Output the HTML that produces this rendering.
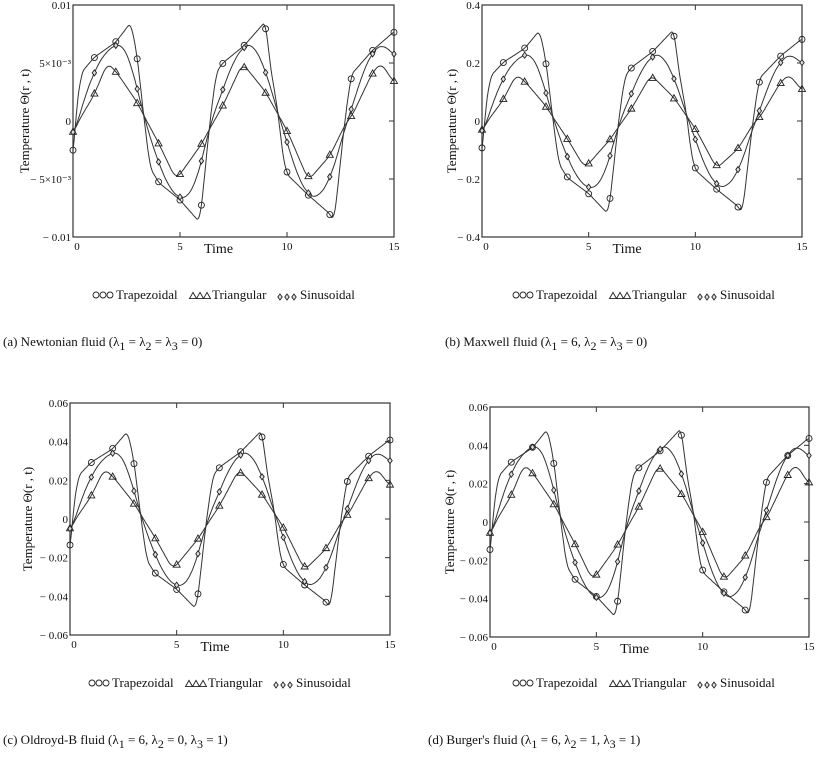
<!DOCTYPE html>
<html><head><meta charset="utf-8"><style>
body{margin:0;background:#fff}
svg text{font-family:"Liberation Serif",serif;fill:#111}
</style></head><body>
<svg id="s" width="819" height="757" xmlns="http://www.w3.org/2000/svg"></svg>
<script>
const S=document.getElementById('s');let h='';
const trap=[[0,-3.5],[0.15,1],[0.4,4.2],[1,5.5],[2,6.8],[2.7,8.5],[3.0,5.6],[3.3,0.5],[3.6,-4.0],[4,-5.3],[5,-6.8],[5.9,-8.7],[6,-7.5],[6.4,0],[6.7,4.2],[7,5.0],[8,6.5],[9,8.6],[9.2,5],[9.6,0.5],[9.8,-3],[10,-4.6],[11,-6.4],[12,-8.0],[12.2,-8.7],[12.7,0],[13,4.0],[14,6.1],[15,7.7]];
const sin=[[0,-1.5],[0.5,1.8],[1,4.3],[1.5,5.9],[2,6.6],[2.3,6.7],[2.7,5],[3,2.8],[3.3,0.5],[3.7,-2],[4,-3.6],[4.5,-5.8],[5,-6.7],[5.3,-6.7],[5.7,-5.5],[6,-3.6],[6.4,-0.3],[7,2.7],[7.5,5.2],[8,6.5],[8.4,6.7],[9,4.4],[9.6,0.5],[10,-1.8],[10.5,-4.8],[11,-6.4],[11.4,-6.7],[12,-5.1],[12.5,-2],[12.8,0],[13,0.9],[13.5,4],[14,6.0],[14.5,6.7],[15,5.6]];
const tri=[[0,-1.2],[0.2,-0.2],[1,2.3],[1.6,5.0],[2,4.3],[3,1.6],[3.3,0.5],[4,-1.9],[4.8,-5.0],[5,-4.6],[6,-2.0],[6.5,-0.3],[7,1.3],[7.9,4.9],[8,4.8],[9,2.5],[9.6,0.5],[10,-0.8],[11,-5.1],[12,-3.0],[12.8,0],[13,0.3],[14,4.2],[14.4,5.0],[15,3.3]];
function interp(k,t){for(let i=0;i<k.length-1;i++){if(t>=k[i][0]&&t<=k[i+1][0]){const f=(t-k[i][0])/(k[i+1][0]-k[i][0]);return k[i][1]+f*(k[i+1][1]-k[i][1]);}}return k[k.length-1][1];}
function smooth(k,t,w){if(w==0)return interp(k,t);let s=0,n=0;for(let d=-w;d<=w+1e-9;d+=w/5){const tt=Math.min(15,Math.max(0,t+d));s+=interp(k,tt);n++;}return s/n;}
function circ(x,y){return `<circle cx="${x}" cy="${y}" r="3" fill="none" stroke="#222" stroke-width="0.9"/>`}
function triM(x,y){return `<path d="M${x} ${y-3.6}L${x+3.5} ${y+2.6}L${x-3.5} ${y+2.6}Z" fill="none" stroke="#222" stroke-width="0.9"/>`}
function dia(x,y){return `<path d="M${x} ${y-3}L${x+2.2} ${y}L${x} ${y+3}L${x-2.2} ${y}Z" fill="#ddd" stroke="#222" stroke-width="0.9"/>`}
const P=[
{x0:73,x1:394,yt:5,yb:237,lab:['0.01','5×10⁻³','0','− 5×10⁻³','− 0.01'],sc:[1,1,1],ylx:25},
{x0:482,x1:802,yt:5,yb:237,lab:['0.4','0.2','0','− 0.2','− 0.4'],sc:[0.92,0.87,0.8],ylx:452},
{x0:70,x1:390,yt:403,yb:635,lab:['0.06','0.04','0.02','0','− 0.02','− 0.04','− 0.06'],sc:[0.89,0.87,0.86],ylx:28},
{x0:490,x1:809,yt:407,yb:637,lab:['0.06','0.04','0.02','0','− 0.02','− 0.04','− 0.06'],sc:[0.95,1.0,1.0],ylx:450}];
P.forEach(p=>{
 const X=t=>p.x0+(p.x1-p.x0)*t/15, Y=v=>(p.yt+p.yb)/2-v/10*(p.yb-p.yt)/2;
 h+=`<rect x="${p.x0}" y="${p.yt}" width="${p.x1-p.x0}" height="${p.yb-p.yt}" fill="none" stroke="#333" stroke-width="1.2"/>`;
 [5,10].forEach(t=>{h+=`<line x1="${X(t)}" y1="${p.yt}" x2="${X(t)}" y2="${p.yt+5}" stroke="#333"/><line x1="${X(t)}" y1="${p.yb}" x2="${X(t)}" y2="${p.yb-5}" stroke="#333"/>`;});
 const n=p.lab.length;
 p.lab.forEach((l,i)=>{const y=p.yt+(p.yb-p.yt)*i/(n-1);
  if(i>0&&i<n-1)h+=`<line x1="${p.x1}" y1="${y}" x2="${p.x1-5}" y2="${y}" stroke="#333"/>`;
  h+=`<text x="${p.x0-2}" y="${y+4}" font-size="11" text-anchor="end">${l}</text>`;});
 [['0',0],['5',5],['10',10],['15',15]].forEach(([l,t])=>{h+=`<text x="${X(t)+(t==0?4:0)}" y="${p.yb+13}" font-size="11" text-anchor="middle">${l}</text>`;});
 h+=`<text x="${X(6.8)}" y="${p.yb+16}" font-size="14" text-anchor="middle">Time</text>`;
 h+=`<text transform="translate(${p.ylx+4},${(p.yt+p.yb)/2}) rotate(-90)" font-size="13" text-anchor="middle">Temperature Θ(r , t)</text>`;
 [[trap,circ,0.12],[tri,triM,0.2],[sin,dia,0.3]].forEach(([k,m,w],j)=>{
  const s=[0,2,1][j]; const f=p.sc[s];
  let d='';for(let t=0;t<=15.0001;t+=0.05){d+=(d?'L':'M')+X(t).toFixed(1)+' '+Y(smooth(k,t,w)*f).toFixed(1);}
  h+=`<path d="${d}" fill="none" stroke="#333" stroke-width="1"/>`;
  for(let t=0;t<=15;t++)h+=m(X(t),Y(smooth(k,t,w)*f));
 });
});
function legend(cx,y){let x=cx-130;let s='';
 for(let i=0;i<3;i++)s+=circ(x+i*7,y-4);s+=`<text x="${x+20}" y="${y}" font-size="13">Trapezoidal</text>`;
 x+=97;for(let i=0;i<3;i++)s+=triM(x+i*7,y-3);s+=`<text x="${x+19}" y="${y}" font-size="13">Triangular</text>`;
 x+=87;for(let i=0;i<3;i++)s+=dia(x+i*7,y-2);s+=`<text x="${x+20}" y="${y}" font-size="13">Sinusoidal</text>`;return s;}
h+=legend(226,299)+legend(646,299)+legend(222,687)+legend(646,687);
function cap(x,y,a){return `<text x="${x}" y="${y}" font-size="13">${a}</text>`}
h+=cap(3,346,'(a) Newtonian fluid (λ<tspan dy="4" font-size="12">1</tspan><tspan dy="-4"> = λ</tspan><tspan dy="4" font-size="12">2</tspan><tspan dy="-4"> = λ</tspan><tspan dy="4" font-size="12">3</tspan><tspan dy="-4">  = 0)</tspan>');
h+=cap(445,346,'(b) Maxwell fluid (λ<tspan dy="4" font-size="12">1</tspan><tspan dy="-4"> = 6,  λ</tspan><tspan dy="4" font-size="12">2</tspan><tspan dy="-4"> = λ</tspan><tspan dy="4" font-size="12">3</tspan><tspan dy="-4">  = 0)</tspan>');
h+=cap(3,744,'(c) Oldroyd-B fluid (λ<tspan dy="4" font-size="12">1</tspan><tspan dy="-4"> = 6,  λ</tspan><tspan dy="4" font-size="12">2</tspan><tspan dy="-4"> = 0,  λ</tspan><tspan dy="4" font-size="12">3</tspan><tspan dy="-4">  = 1)</tspan>');
h+=cap(428,744,'(d) Burger\'s fluid (λ<tspan dy="4" font-size="12">1</tspan><tspan dy="-4"> = 6,  λ</tspan><tspan dy="4" font-size="12">2</tspan><tspan dy="-4"> = 1,  λ</tspan><tspan dy="4" font-size="12">3</tspan><tspan dy="-4">  = 1)</tspan>');
S.innerHTML=h;
</script>
</body></html>
